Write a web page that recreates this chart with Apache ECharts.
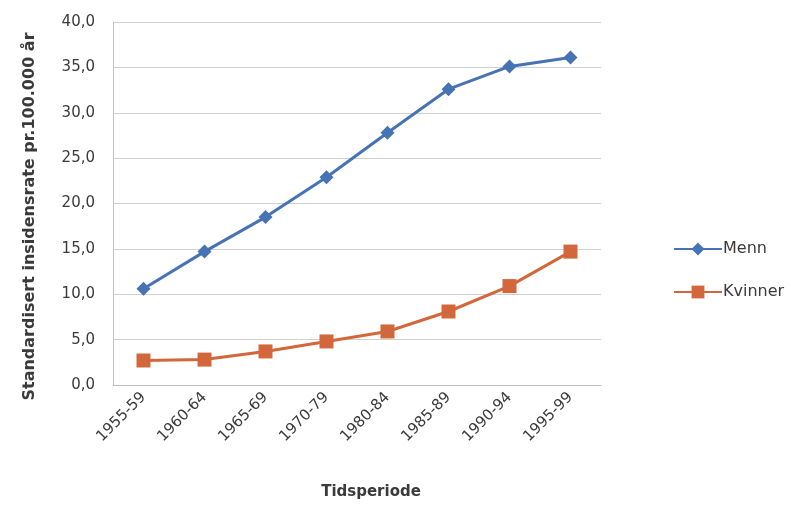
<!DOCTYPE html>
<html>
<head>
<meta charset="utf-8">
<script src="https://cdn.jsdelivr.net/npm/echarts@6/dist/echarts.min.js"></script>
<style>
  html, body { margin: 0; padding: 0; background: #ffffff; }
  #chart { width: 791px; height: 506px; }
</style>
</head>
<body>
<div id="chart"></div>
<script>
// Time periods on the x axis
const periods = ['1955-59', '1960-64', '1965-69', '1970-79', '1980-84', '1985-89', '1990-94', '1995-99'];
// Age-standardised incidence per 100 000
const menn = [10.6, 14.7, 18.5, 22.9, 27.8, 32.6, 35.1, 36.1];
const kvinner = [2.7, 2.8, 3.7, 4.8, 5.9, 8.1, 10.9, 14.7];

const FONT = '"DejaVu Sans", sans-serif';
const TEXT = '#3a3a3a';
const chart = echarts.init(document.getElementById('chart'));

chart.setOption({
  backgroundColor: '#ffffff',
  animation: false,
  textStyle: { fontFamily: FONT },
  grid: { left: 113, right: 190, top: 22, bottom: 121 },
  legend: {
    orient: 'vertical',
    left: 668,
    top: 236,
    itemGap: 27,
    itemWidth: 48,
    itemHeight: 16,
    textStyle: { fontFamily: FONT, fontSize: 16, lineHeight: 16, color: TEXT, padding: [0, 0, 0, -4] },
    data: ['Menn', 'Kvinner']
  },
  xAxis: {
    type: 'category',
    data: periods,
    boundaryGap: true,
    name: 'Tidsperiode',
    nameLocation: 'middle',
    nameGap: 100,
    nameTextStyle: { fontFamily: FONT, fontSize: 15, fontWeight: 'bold', color: TEXT, padding: [0, 0, 0, 28] },
    axisLine: { show: true, lineStyle: { color: '#bfbfbf', width: 1 } },
    axisTick: { show: false },
    axisLabel: { rotate: 45, fontFamily: FONT, fontSize: 15, color: TEXT, margin: 10, interval: 0 }
  },
  yAxis: {
    type: 'value',
    min: 0,
    max: 40,
    interval: 5,
    name: 'Standardisert insidensrate pr.100.000 år',
    nameLocation: 'middle',
    nameGap: 75,
    nameRotate: 90,
    nameTextStyle: { fontFamily: FONT, fontSize: 16, fontWeight: 'bold', color: TEXT, padding: [0, 26, 0, 0] },
    axisLine: { show: true, lineStyle: { color: '#bfbfbf', width: 1 } },
    axisTick: { show: false },
    splitLine: { show: true, lineStyle: { color: '#d0d0d0', width: 1 } },
    axisLabel: {
      fontFamily: FONT, fontSize: 15, color: TEXT, margin: 18,
      formatter: v => v.toFixed(1).replace('.', ',')
    }
  },
  series: [
    {
      name: 'Menn',
      type: 'line',
      data: menn,
      symbol: 'diamond',
      symbolSize: 14,
      lineStyle: { color: '#4673b5', width: 3 },
      itemStyle: { color: '#4673b5' }
    },
    {
      name: 'Kvinner',
      type: 'line',
      data: kvinner,
      symbol: 'rect',
      symbolSize: 14,
      lineStyle: { color: '#d2673c', width: 3 },
      itemStyle: { color: '#d2673c' }
    }
  ]
});
</script>
</body>
</html>
